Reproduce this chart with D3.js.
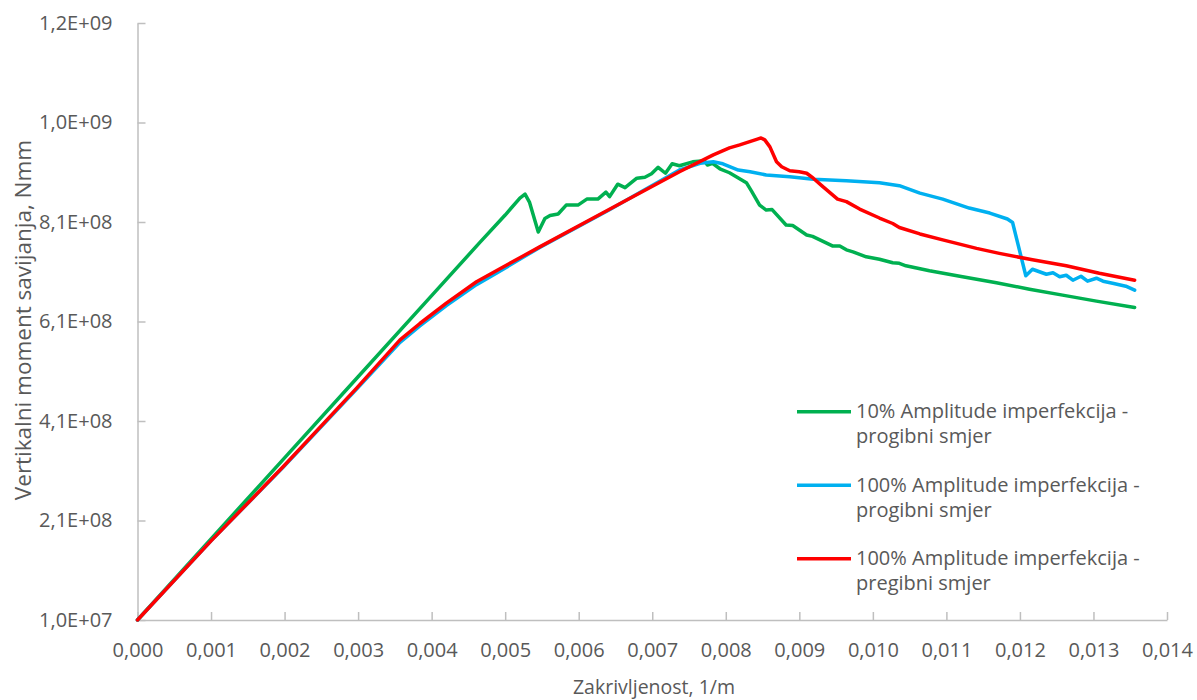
<!DOCTYPE html>
<html><head><meta charset="utf-8">
<script src="https://cdn.jsdelivr.net/npm/d3@7"></script>
<style>
body{margin:0;background:#fff}
text{font-family:"Open Sans",sans-serif;fill:#595959}
</style>
</head><body>
<svg id="c" width="1197" height="700"></svg>
<script>
// ---- data (curvature in 1/m, moment in Nmm) ----
const xTickValues = [0,0.001,0.002,0.003,0.004,0.005,0.006,0.007,0.008,0.009,0.010,0.011,0.012,0.013,0.014];
const xTickLabels = ["0,000","0,001","0,002","0,003","0,004","0,005","0,006","0,007","0,008","0,009","0,010","0,011","0,012","0,013","0,014"];
const yTickValues = [1e7,2.1e8,4.1e8,6.1e8,8.1e8,1.01e9,1.21e9];
const yTickLabels = ["1,0E+07","2,1E+08","4,1E+08","6,1E+08","8,1E+08","1,0E+09","1,2E+09"];

const seriesNames = [
  ["10% Amplitude imperfekcija -","progibni smjer"],
  ["100% Amplitude imperfekcija -","progibni smjer"],
  ["100% Amplitude imperfekcija -","pregibni smjer"]
];
const seriesColors = ["#00b050","#00b0f0","#ff0000"];

// curvature (x 1e-3) and moment (x 1e8)
const greenK = [0,1.0,2.0,3.0,4.0,4.65,5.0,5.2,5.27,5.33,5.45,5.54,5.61,5.72,5.83,5.99,6.11,6.26,6.37,6.42,6.53,6.63,6.79,6.90,6.99,7.08,7.18,7.27,7.37,7.55,7.71,7.75,7.82,7.92,8.05,8.28,8.35,8.46,8.55,8.63,8.82,8.91,9.10,9.18,9.45,9.55,9.64,9.73,9.91,10.09,10.27,10.36,10.45,10.77,11.22,11.68,12.13,12.58,13.04,13.56];
const greenM = [0.10,1.73,3.36,4.99,6.62,7.68,8.24,8.58,8.66,8.50,7.90,8.17,8.23,8.26,8.44,8.44,8.56,8.56,8.70,8.61,8.86,8.79,8.98,9.00,9.07,9.20,9.08,9.27,9.23,9.31,9.33,9.245,9.28,9.17,9.09,8.89,8.72,8.44,8.34,8.35,8.04,8.03,7.84,7.81,7.62,7.62,7.54,7.50,7.40,7.35,7.28,7.27,7.22,7.12,7.00,6.88,6.75,6.63,6.51,6.38];

const blueK = [0,1.0,1.98,2.98,3.57,3.84,4.20,4.61,4.88,5.47,6.40,7.37,7.65,7.83,7.96,8.17,8.33,8.55,8.87,9.19,9.64,10.09,10.36,10.64,10.95,11.31,11.59,11.83,11.90,12.08,12.17,12.36,12.45,12.54,12.63,12.72,12.83,12.92,13.04,13.13,13.26,13.44,13.56];
const blueM = [0.10,1.69,3.17,4.74,5.68,6.01,6.42,6.84,7.07,7.59,8.33,9.145,9.28,9.31,9.27,9.145,9.11,9.045,9.01,8.96,8.93,8.89,8.83,8.68,8.56,8.38,8.28,8.16,8.09,7.02,7.15,7.05,7.08,7.00,7.03,6.93,7.01,6.91,6.97,6.91,6.87,6.81,6.73];

const redK = [0,1.0,1.98,2.98,3.57,3.84,4.20,4.61,4.88,5.47,6.40,7.37,7.83,8.05,8.19,8.42,8.48,8.53,8.60,8.69,8.76,8.87,9.00,9.10,9.19,9.32,9.52,9.64,9.82,10.09,10.27,10.36,10.64,10.95,11.41,11.72,12.17,12.63,13.08,13.56];
const redM = [0.10,1.69,3.18,4.76,5.73,6.06,6.47,6.90,7.12,7.60,8.34,9.11,9.45,9.59,9.65,9.76,9.79,9.75,9.61,9.31,9.21,9.13,9.11,9.08,8.98,8.81,8.56,8.51,8.36,8.18,8.07,7.99,7.86,7.74,7.57,7.47,7.34,7.22,7.07,6.93];

const series = [
  greenK.map((k,i)=>({x:k*1e-3, y:greenM[i]*1e8})),
  blueK.map((k,i)=>({x:k*1e-3, y:blueM[i]*1e8})),
  redK.map((k,i)=>({x:k*1e-3, y:redM[i]*1e8}))
];

// ---- layout ----
const svg = d3.select("#c");
const x = d3.scaleLinear().domain([0,0.014]).range([137.5,1167]);
const y = d3.scaleLinear().domain([1e7,1.21e9]).range([620,23]);

const axisColor = "#bfbfbf";

const gx = svg.append("g").attr("transform","translate(0,620)")
  .call(d3.axisBottom(x).tickValues(xTickValues).tickFormat((d,i)=>xTickLabels[i])
    .tickSizeInner(-8).tickSizeOuter(0).tickPadding(23));
const gy = svg.append("g").attr("transform","translate(137.5,0)")
  .call(d3.axisLeft(y).tickValues(yTickValues).tickFormat((d,i)=>yTickLabels[i])
    .tickSizeInner(-8).tickSizeOuter(0).tickPadding(25));

[gx,gy].forEach(g=>{
  g.select(".domain").attr("stroke",axisColor).attr("stroke-width",1.5);
  g.selectAll(".tick line").attr("stroke",axisColor).attr("stroke-width",1.5);
  g.selectAll(".tick text").attr("font-family","'Open Sans',sans-serif").attr("font-size",20).attr("fill","#595959");
});

// lines
const line = d3.line().x(d=>x(d.x)).y(d=>y(d.y));
series.forEach((s,i)=>{
  svg.append("path").datum(s).attr("d",line)
    .attr("fill","none").attr("stroke",seriesColors[i])
    .attr("stroke-width",3.5).attr("stroke-linejoin","round").attr("stroke-linecap","round");
});

// axis titles
svg.append("text").attr("x",654).attr("y",694).attr("text-anchor","middle")
  .attr("font-size",19.5).text("Zakrivljenost, 1/m");
svg.append("text").attr("transform","translate(31,320) rotate(-90)").attr("text-anchor","middle")
  .attr("font-size",22.5).text("Vertikalni moment savijanja, Nmm");

// legend
const lg = svg.append("g");
seriesNames.forEach((nm,i)=>{
  const base = 418.3 + i*73.5;
  lg.append("line").attr("x1",797).attr("x2",851).attr("y1",base-6.5).attr("y2",base-6.5)
    .attr("stroke",seriesColors[i]).attr("stroke-width",3.5);
  const t = lg.append("text").attr("x",856).attr("y",base).attr("font-size",20);
  t.append("tspan").attr("x",856).text(nm[0]);
  t.append("tspan").attr("x",856).attr("dy",25).text(nm[1]);
});
</script>
</body></html>
